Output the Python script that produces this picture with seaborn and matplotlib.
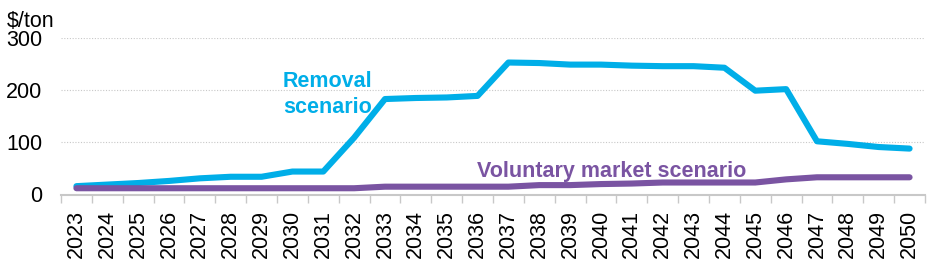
import matplotlib
matplotlib.use("Agg")
import matplotlib.pyplot as plt
import seaborn as sns
import pandas as pd
import numpy as np

years = [str(y) for y in range(2023, 2051)]
removal = [16, 19, 22, 26, 31, 34, 34, 44, 44, 109, 183, 185, 186, 189, 253, 252, 249, 249,
           247, 246, 246, 243, 199, 202, 102, 97, 91, 88]
voluntary = [12, 12, 12, 12, 12, 12, 12, 12, 12, 12, 15, 15, 15, 15, 15, 18, 18, 20,
             21, 23, 23, 23, 23, 29, 33, 33, 33, 33]

blue = "#00AEE8"
purple = "#7A54A2"

sns.set_theme(style="white")
plt.rcParams['font.family'] = ['Liberation Sans', 'DejaVu Sans']

df = pd.DataFrame({
    "pos": list(range(len(years))) * 2,
    "value": removal + voluntary,
    "series": ["Removal"] * len(years) + ["Voluntary"] * len(years),
})

FS = 15.5

fig = plt.figure(figsize=(9.47, 2.63), dpi=100)
ax = fig.add_axes([61 / 947, 1 - 194.5 / 263, (925 - 61) / 947, (194.5 - 38) / 263])

sns.lineplot(data=df, x="pos", y="value", hue="series",
             palette={"Removal": blue, "Voluntary": purple},
             linewidth=4.4, legend=False, ax=ax,
             solid_capstyle="round", solid_joinstyle="round")

ax.set_xlim(-0.5, len(years) - 0.5)
ax.set_ylim(0, 300)
ax.set_yticks([0, 100, 200, 300])
ax.set_yticklabels(["0", "100", "200", "300"], fontsize=FS, color="black")
ax.tick_params(axis="y", length=0, pad=13.5)
ax.yaxis.grid(True, color="#C8C8C8", linestyle=(0, (1, 1.5)), linewidth=0.8)
ax.set_axisbelow(True)

ax.set_xticks(range(len(years)))
ax.set_xticklabels(years, rotation=90, fontsize=FS, color="black")
ax.set_xticks(np.arange(-0.5, len(years), 1.0), minor=True)
ax.tick_params(axis="x", which="major", length=0, pad=11)
ax.tick_params(axis="x", which="minor", length=6, width=1, color="#C8C8C8", direction="out", bottom=True)

for s in ["left", "right", "top"]:
    ax.spines[s].set_visible(False)
ax.spines["bottom"].set_color("#C8C8C8")
ax.spines["bottom"].set_linewidth(1.5)

ax.set_xlabel("")
ax.set_ylabel("")

fig.text(7 / 947, 1 - 26.7 / 263, "$/ton", fontsize=FS, va="baseline", ha="left", color="black")

ax.text(8.14, 206.6, "Removal", color=blue, fontsize=FS, fontweight="bold",
        ha="center", va="baseline")
ax.text(8.14, 156.2, "scenario", color=blue, fontsize=FS, fontweight="bold",
        ha="center", va="baseline")
ax.text(17.35, 34.1, "Voluntary market scenario", color=purple, fontsize=FS,
        fontweight="bold", ha="center", va="baseline")

fig.savefig("out.png", dpi=100)
